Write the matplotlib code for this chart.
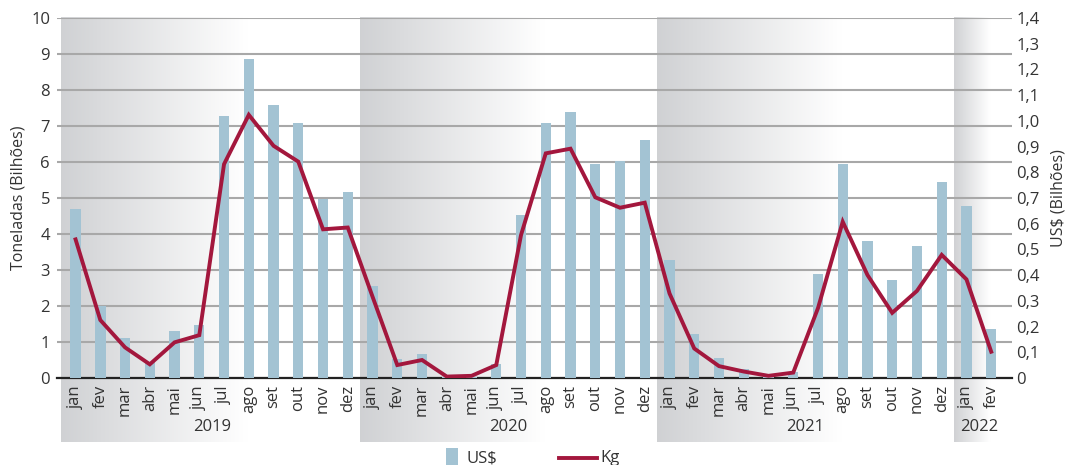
import numpy as np
import matplotlib
matplotlib.use("Agg")
import matplotlib.pyplot as plt
from matplotlib.patches import Rectangle
from matplotlib.lines import Line2D
import matplotlib.transforms as mtransforms

plt.rcParams['font.family'] = ['Open Sans', 'DejaVu Sans']

months = ['jan', 'fev', 'mar', 'abr', 'mai', 'jun',
          'jul', 'ago', 'set', 'out', 'nov', 'dez']
years = ['2019', '2020', '2021', '2022']
months_per_year = [12, 12, 12, 2]

# Export value, US$ billions (right axis)
usd_2019 = [0.657, 0.280, 0.154, 0.063, 0.181, 0.206, 1.018, 1.242, 1.061, 0.990, 0.697, 0.722]
usd_2020 = [0.356, 0.072, 0.092, 0.003, 0.003, 0.053, 0.633, 0.993, 1.036, 0.832, 0.843, 0.924]
usd_2021 = [0.459, 0.171, 0.077, 0.035, 0.006, 0.025, 0.404, 0.832, 0.533, 0.381, 0.514, 0.763]
usd_2022 = [0.669, 0.189]

# Export volume, tonnes in billions (left axis)
kg_2019 = [3.85, 1.61, 0.85, 0.38, 0.99, 1.19, 5.94, 7.31, 6.45, 6.01, 4.13, 4.18]
kg_2020 = [2.26, 0.36, 0.50, 0.04, 0.06, 0.36, 3.97, 6.24, 6.37, 5.02, 4.73, 4.87]
kg_2021 = [2.35, 0.82, 0.33, 0.18, 0.06, 0.15, 1.94, 4.34, 2.86, 1.81, 2.42, 3.42]
kg_2022 = [2.74, 0.73]

usd = np.array(usd_2019 + usd_2020 + usd_2021 + usd_2022)
kg = np.array(kg_2019 + kg_2020 + kg_2021 + kg_2022)
month_labels = [months[i] for n in months_per_year for i in range(n)]
x = np.arange(len(usd))

bar_color = '#A3C3D3'
line_color = '#A3173D'
grid_color = '#A8A8A8'
text_color = '#333333'
FS = 12

W, H = 1072, 465
fig = plt.figure(figsize=(W / 100, H / 100), dpi=100)
ax = fig.add_axes([57 / W, 1 - 378 / H, 955 / W, 360 / H])
ax2 = ax.twinx()

xmin, xmax = -0.75, 37.84
ax.set_xlim(xmin, xmax)
ax.set_ylim(0, 10)
ax2.set_ylim(0, 1.4)

# Year bands: grey fading to white, extending under the month labels
band_bottom = -1.78
gray = np.array([0.815, 0.82, 0.83])
starts = np.cumsum([0] + months_per_year[:-1]) - 0.5
ends = np.cumsum(months_per_year) - 0.5
starts[0] = -0.59
ends[-1] = xmax
for s, e in zip(starts, ends):
    t = np.linspace(0, 1, 400)
    f = np.clip(t / 0.62, 0, 1)
    rgb = gray[None, :] * (1 - f[:, None]) + np.ones(3)[None, :] * f[:, None]
    img = rgb[None, :, :]
    ax.imshow(img, extent=(s, e, band_bottom, 10), aspect='auto',
              interpolation='bilinear', clip_on=False, zorder=0)
ax.set_xlim(xmin, xmax)
ax.set_ylim(0, 10)

# Horizontal grid on the left scale
ax.set_yticks(range(0, 11))
ax.yaxis.grid(True, color=grid_color, linewidth=1.5, zorder=1)
ax.set_axisbelow(True)
ax.tick_params(axis='y', length=0, pad=5, labelsize=FS, labelcolor=text_color)

ax2.set_yticks(np.round(np.arange(0, 1.41, 0.1), 1))
ax2.set_yticklabels(['0'] + [f"{v:.1f}".replace('.', ',') for v in np.arange(0.1, 1.41, 0.1)])
ax2.tick_params(axis='y', length=0, pad=3, labelsize=FS, labelcolor=text_color)

for a in (ax, ax2):
    for side in ('top', 'left', 'right'):
        a.spines[side].set_visible(False)
ax.spines['bottom'].set_color('#222222')
ax.spines['bottom'].set_linewidth(1.6)
ax.spines['bottom'].set_zorder(3)
ax2.spines['bottom'].set_visible(False)

# Bars (US$) on the right scale, line (Kg) on the left scale drawn above them
ax2.bar(x, usd, width=0.42, color=bar_color, zorder=2)
ax2.plot(x, kg, color=line_color, linewidth=2.8, transform=ax.transData,
         zorder=4, solid_joinstyle='miter')

ax.set_xticks(x)
ax.set_xticklabels(month_labels, rotation=90, fontsize=FS, color=text_color)
ax.tick_params(axis='x', length=0, pad=5)

# Year labels centred under each group of months
trans = mtransforms.blended_transform_factory(ax.transData, ax.transAxes)
pos = 0
for yr, n in zip(years, months_per_year):
    ax.text(pos + (n - 1) / 2, -0.136, yr, transform=trans, ha='center',
            va='center', fontsize=FS, color=text_color)
    pos += n

ax.set_ylabel('Toneladas (Bilhões)', fontsize=11.5, color=text_color, labelpad=3)
ax2.set_ylabel('US$ (Bilhões)', fontsize=11.5, color=text_color, labelpad=8)

# Legend below the plot
fig.patches.append(Rectangle((446 / W, 1 - 468 / H), 12 / W, 20 / H,
                             transform=fig.transFigure, facecolor=bar_color,
                             edgecolor='none'))
fig.text(467 / W, 1 - 458 / H, 'US$', fontsize=FS, color=text_color,
         ha='left', va='center')
fig.lines.append(Line2D([559 / W, 597 / W], [1 - 458 / H, 1 - 458 / H],
                        transform=fig.transFigure, color=line_color,
                        linewidth=2.8))
fig.text(600 / W, 1 - 458 / H, 'Kg', fontsize=FS, color=text_color,
         ha='left', va='center')

fig.savefig('out.png', dpi=100)
